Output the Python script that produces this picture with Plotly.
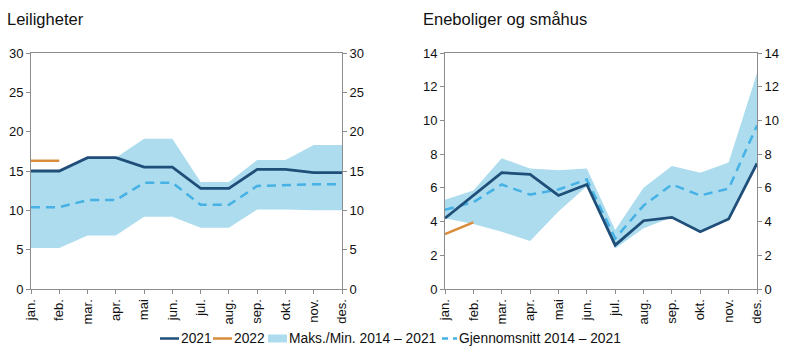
import plotly.graph_objects as go

months = ["jan.", "feb.", "mar.", "apr.", "mai", "jun.", "jul.", "aug.", "sep.", "okt.", "nov.", "des."]

# Leiligheter
lei_2021 = [15.0, 15.0, 16.7, 16.7, 15.5, 15.5, 12.8, 12.8, 15.2, 15.2, 14.8, 14.8]
lei_2022 = [16.3, 16.3]
lei_max = [15.1, 15.1, 16.7, 16.7, 19.1, 19.1, 13.6, 13.6, 16.4, 16.4, 18.3, 18.3]
lei_min = [5.2, 5.2, 6.8, 6.8, 9.2, 9.2, 7.8, 7.8, 10.1, 10.1, 10.0, 10.0]
lei_avg = [10.4, 10.4, 11.3, 11.3, 13.5, 13.5, 10.7, 10.7, 13.1, 13.2, 13.3, 13.3]

# Eneboliger og småhus
ene_2021 = [4.2, 5.55, 6.9, 6.8, 5.55, 6.2, 2.6, 4.05, 4.25, 3.4, 4.15, 7.45]
ene_2022 = [3.25, 3.95]
ene_max = [5.3, 5.85, 7.75, 7.15, 7.05, 7.15, 3.5, 6.0, 7.3, 6.9, 7.5, 12.8]
ene_min = [4.2, 3.85, 3.4, 2.85, 4.6, 6.1, 2.4, 3.6, 4.25, 3.4, 4.15, 7.4]
ene_avg = [4.7, 5.15, 6.2, 5.6, 5.9, 6.5, 3.0, 4.95, 6.2, 5.55, 5.95, 9.7]

titles = ["Leiligheter", "Eneboliger og småhus"]
legend_names = ["2021", "2022", "Maks./Min. 2014 – 2021", "Gjennomsnitt 2014 – 2021"]

C2021 = "#1f4e79"
C2022 = "#d98c3b"
CBAND = "#acdcee"
CAVG = "#45b1e4"
FONT = "Liberation Sans, Arial, sans-serif"
DASH = "9px,6px"

fig = go.Figure()

panels = [
    (lei_2021, lei_2022, lei_max, lei_min, lei_avg, "x", "y", "y3"),
    (ene_2021, ene_2022, ene_max, ene_min, ene_avg, "x2", "y2", "y4"),
]

for i, (d21, d22, dmax, dmin, davg, xa, ya, yr) in enumerate(panels):
    fig.add_trace(go.Scatter(x=months, y=dmin, mode="lines", line=dict(width=0, color=CBAND),
                             showlegend=False, hoverinfo="skip", xaxis=xa, yaxis=ya))
    fig.add_trace(go.Scatter(x=months, y=dmax, mode="lines", line=dict(width=0, color=CBAND),
                             fill="tonexty", fillcolor=CBAND, name=legend_names[2],
                             showlegend=False, xaxis=xa, yaxis=ya))
    fig.add_trace(go.Scatter(x=months, y=davg, mode="lines", line=dict(width=2.5, color=CAVG, dash=DASH),
                             name=legend_names[3], showlegend=False, xaxis=xa, yaxis=ya))
    fig.add_trace(go.Scatter(x=months, y=d21, mode="lines", line=dict(width=2.8, color=C2021),
                             name=legend_names[0], showlegend=False, xaxis=xa, yaxis=ya))
    fig.add_trace(go.Scatter(x=months[:len(d22)], y=d22, mode="lines", line=dict(width=2.5, color=C2022),
                             name=legend_names[1], showlegend=False, xaxis=xa, yaxis=ya))
    # invisible trace for right-hand axis
    fig.add_trace(go.Scatter(x=months, y=d21, mode="lines", line=dict(width=0), opacity=0,
                             showlegend=False, hoverinfo="skip", xaxis=xa, yaxis=yr))

W, H = 797, 362
L, R, T, B = 31, 797 - 757, 53, 362 - 289
pw = W - L - R
ph = H - T - B

def px_x(p):
    return (p - L) / pw

def px_y(p):
    return (H - B - p) / ph

axis_common = dict(showline=True, linecolor="#8c8c8c", linewidth=1, ticks="outside",
                   ticklen=4, tickcolor="#8c8c8c", showgrid=False, zeroline=False,
                   automargin=False,
                   tickfont=dict(size=13, color="#111", family=FONT))

xcommon = dict(axis_common, type="category", range=[0, 11], tickangle=-90, mirror=True)

fig.update_layout(
    width=W, height=H,
    margin=dict(l=L, r=R, t=T, b=B, autoexpand=False),
    paper_bgcolor="white", plot_bgcolor="white",
    font=dict(family=FONT, size=13, color="#111"),
    xaxis=dict(xcommon, domain=[0, px_x(342)], anchor="y"),
    xaxis2=dict(xcommon, domain=[px_x(445), 1], anchor="y2"),
    yaxis=dict(axis_common, range=[0, 30], dtick=5, anchor="x", mirror=True),
    yaxis3=dict(axis_common, range=[0, 30], dtick=5, anchor="x", overlaying="y", side="right"),
    yaxis2=dict(axis_common, range=[0, 14], dtick=2, anchor="x2", mirror=True),
    yaxis4=dict(axis_common, range=[0, 14], dtick=2, anchor="x2", overlaying="y2", side="right"),
    showlegend=False,
)

# titles
fig.add_annotation(text=titles[0], xref="paper", yref="paper", x=px_x(5), y=px_y(19),
                   xanchor="left", yanchor="middle", showarrow=False, font=dict(size=16.5, family=FONT))
fig.add_annotation(text=titles[1], xref="paper", yref="paper", x=px_x(421), y=px_y(19),
                   xanchor="left", yanchor="middle", showarrow=False, font=dict(size=16.5, family=FONT))

# custom legend (pixel layout of the reference)
LY = 338.5
leg_items = [
    ("line", C2021, 160, 179, 180, legend_names[0]),
    ("line", C2022, 213, 232, 233, legend_names[1]),
    ("rect", CBAND, 268, 287, 288, legend_names[2]),
    ("dash", CAVG, 442, 457, 458, legend_names[3]),
]
for kind, col, x0, x1, tx, name in leg_items:
    if kind == "rect":
        fig.add_shape(type="rect", xref="paper", yref="paper", x0=px_x(x0), x1=px_x(x1),
                      y0=px_y(LY + 4), y1=px_y(LY - 4), fillcolor=col, line=dict(width=0))
    else:
        fig.add_shape(type="line", xref="paper", yref="paper", x0=px_x(x0), x1=px_x(x1),
                      y0=px_y(LY), y1=px_y(LY),
                      line=dict(color=col, width=2.5, dash=("6px,5px" if kind == "dash" else "solid")))
    fig.add_annotation(text=name, xref="paper", yref="paper", x=px_x(tx), y=px_y(LY),
                       xanchor="left", yanchor="middle", showarrow=False, xshift=-1,
                       font=dict(size=13.8, family=FONT, color="#111"))

fig.write_html("out.html", config={"displayModeBar": False},
               post_script="document.body.style.margin='0';")
